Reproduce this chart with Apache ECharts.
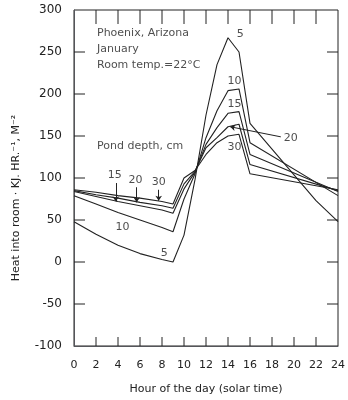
<!DOCTYPE html>
<html>
<head>
<meta charset="utf-8">
<script src="https://cdn.jsdelivr.net/npm/echarts@6/dist/echarts.min.js"></script>
<style>
  html, body { margin: 0; padding: 0; background: #fff; }
  #main { width: 348px; height: 400px; }
</style>
</head>
<body>
<div id="main"></div>
<script>
// hour of day (solar time)
const hours = [0, 2, 4, 6, 8, 9, 10, 11, 12, 13, 14, 15, 16, 24]
const hours5 = [0, 2, 4, 6, 8, 9, 10, 11, 12, 13, 14, 15, 16, 22, 24]

// heat into room, KJ/HR/M2, one list per pond depth (cm)
const depth5 = [48, 33, 20, 10, 3, 0, 32, 98, 175, 235, 267, 250, 165, 73, 48]
const depth10 = [79, 69, 59, 50, 41, 36, 75, 105, 148, 180, 204, 206, 142, 79]
const depth15 = [84, 78, 72, 67, 62, 58, 87, 107, 140, 160, 177, 179, 128, 84]
const depth20 = [85, 80, 76, 71, 67, 64, 93, 108, 136, 148, 161, 164, 116, 85]
const depth30 = [86, 83, 79, 76, 72, 69, 100, 109, 128, 142, 150, 152, 105, 86]

const xTicks = [0, 2, 4, 6, 8, 10, 12, 14, 16, 18, 20, 22, 24]
const yTicks = [-100, -50, 0, 50, 100, 150, 200, 250, 300]

// text notes placed in data units: [hour, value, text, align]
const notes = [
  [2, 272, 'Phoenix, Arizona', 'left'],
  [2, 253, 'January', 'left'],
  [2, 234, 'Room temp.=22°C', 'left'],
  [2, 138, 'Pond depth, cm', 'left'],
  [14.7, 271, '5', 'left'],
  [14.6, 215, '10', 'center'],
  [14.6, 188, '15', 'center'],
  [14.6, 137, '30', 'center'],
  [19.7, 148, '20', 'center'],
  [3.7, 103, '15', 'center'],
  [5.6, 98, '20', 'center'],
  [7.7, 95, '30', 'center'],
  [4.4, 41, '10', 'center'],
  [8.2, 10, '5', 'center']
]

// arrows: [[fromHour, fromVal], [toHour, toVal]]
const arrows = [
  [[3.8, 94], [3.8, 72]],
  [[5.7, 89], [5.7, 71]],
  [[7.7, 86], [7.7, 73]],
  [[18.8, 149], [14.2, 161]]
]

const ink = '#222'
const font = '"DejaVu Sans", sans-serif'

const pairs = (xs, ys) => xs.map((x, i) => [x, ys[i]])

const curve = (name, xs, ys) => ({
  name: name,
  type: 'line',
  data: pairs(xs, ys),
  symbol: 'none',
  lineStyle: { color: ink, width: 1.1 },
  z: 3
})

// inward tick marks on all four sides of the frame
const tickItems = [
  ...xTicks.slice(1, -1).map(v => [v, 0, 0]),
  ...yTicks.slice(1, -1).map(v => [0, v, 1])
]

const renderTick = (params, api) => {
  const kind = api.value(2)
  const style = { stroke: ink, lineWidth: 1 }
  if (kind === 0) {
    const top = api.coord([api.value(0), 300])
    const bot = api.coord([api.value(0), -100])
    return {
      type: 'group',
      children: [
        { type: 'line', shape: { x1: top[0], y1: top[1], x2: top[0], y2: top[1] + 14 }, style },
        { type: 'line', shape: { x1: bot[0], y1: bot[1], x2: bot[0], y2: bot[1] - 9 }, style }
      ]
    }
  }
  const l = api.coord([0, api.value(1)])
  const r = api.coord([24, api.value(1)])
  return {
    type: 'group',
    children: [
      { type: 'line', shape: { x1: l[0], y1: l[1], x2: l[0] + 11, y2: l[1] }, style },
      { type: 'line', shape: { x1: r[0], y1: r[1], x2: r[0] - 11, y2: r[1] }, style }
    ]
  }
}

const chartDom = document.getElementById('main')
const myChart = echarts.init(chartDom)

const option = {
  backgroundColor: '#fff',
  animation: false,
  grid: {
    left: 74, right: 4, top: 10, bottom: 50,
    show: true, borderColor: ink, borderWidth: 1
  },
  xAxis: {
    type: 'value', min: 0, max: 24, interval: 2,
    name: 'Hour of the day (solar time)',
    nameLocation: 'middle', nameGap: 38,
    nameTextStyle: { fontFamily: font, fontSize: 11, color: ink },
    axisLine: { onZero: false },
    axisTick: { show: false },
    axisLabel: {
      fontFamily: font, fontSize: 11, color: ink, margin: 14,
      formatter: v => xTicks.includes(v) ? String(v) : ''
    },
    splitLine: { show: false }
  },
  yAxis: {
    type: 'value', min: -100, max: 300, interval: 50,
    name: 'Heat into room · KJ. HR.⁻¹, M⁻²',
    nameLocation: 'middle', nameGap: 52, nameRotate: 90,
    nameTextStyle: { fontFamily: font, fontSize: 11, color: ink, padding: [0, 40, 0, 0] },
    axisLine: { onZero: false },
    axisTick: { show: false },
    axisLabel: {
      fontFamily: font, fontSize: 12, color: ink, margin: 12,
      formatter: v => yTicks.includes(v) ? String(v) : ''
    },
    splitLine: { show: false }
  },
  series: [
    {
      name: 'ticks',
      type: 'custom',
      renderItem: renderTick,
      data: tickItems,
      silent: true,
      z: 2
    },
    curve('5', hours5, depth5),
    curve('10', hours, depth10),
    curve('15', hours, depth15),
    curve('20', hours, depth20),
    curve('30', hours, depth30),
    {
      name: 'arrows',
      type: 'lines',
      coordinateSystem: 'cartesian2d',
      symbol: ['none', 'arrow'],
      symbolSize: 5,
      lineStyle: { color: ink, width: 1, opacity: 1 },
      data: arrows.map(a => ({ coords: a })),
      z: 4
    },
    {
      name: 'notes',
      type: 'scatter',
      symbolSize: 0,
      silent: true,
      data: notes.map(n => ({
        value: [n[0], n[1]],
        label: {
          show: true, position: 'inside', formatter: n[2], align: n[3],
          verticalAlign: 'middle',
          fontFamily: font, fontSize: 11, color: ink,
          backgroundColor: n[2] === '20' && n[0] > 15 ? '#fff' : 'transparent',
          padding: [0, 1]
        }
      })),
      z: 5
    }
  ]
}

option && myChart.setOption(option)
</script>
</body>
</html>
